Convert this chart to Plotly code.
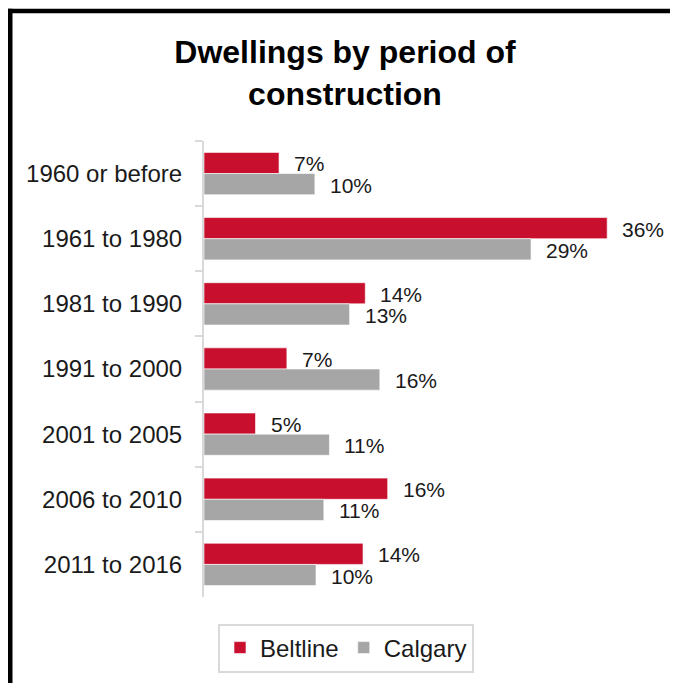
import plotly.graph_objects as go

# Data
periods = ["1960 or before", "1961 to 1980", "1981 to 1990", "1991 to 2000",
           "2001 to 2005", "2006 to 2010", "2011 to 2016"]
beltline = [6.7, 36.0, 14.4, 7.4, 4.6, 16.4, 14.2]
calgary = [9.9, 29.2, 13.0, 15.7, 11.2, 10.7, 10.0]

RED = "#C8102E"
GREY = "#A6A6A6"
FONT = "Arial, Liberation Sans, sans-serif"

# the page body adds an 8px margin, so the figure is 8px smaller than the window
OFF = 8
W, H = 678 - OFF, 683 - OFF
ML, MR, MT, MB = 204 - OFF, 26, 141 - OFF, 85
PW, PH = W - ML - MR, H - MT - MB


def px_x(px):
    # window pixel -> paper x
    return (px - OFF - ML) / PW


def px_y(py):
    # window pixel -> paper y
    return (H - MB - (py - OFF)) / PH


fig = go.Figure()

for name, vals, col in [("Beltline", beltline, RED), ("Calgary", calgary, GREY)]:
    fig.add_trace(go.Bar(
        y=periods, x=vals, name=name, orientation="h",
        marker=dict(color=col, line=dict(color="white", width=0.6)),
        hoverinfo="x+y",
    ))

# value labels, offset to the right of each bar end
bar_px = (1 - 0.35) / 2 * PH / len(periods)
for vals, shift in [(beltline, bar_px / 2), (calgary, -bar_px / 2)]:
    for p, v in zip(periods, vals):
        fig.add_annotation(
            x=v, y=p, text=f"{v:.0f}%", showarrow=False,
            xanchor="left", xshift=13, yshift=shift - 1,
            font=dict(family=FONT, size=21, color="#1a1a1a"),
        )

# black frame on top and left edges
fig.add_shape(type="rect", xref="paper", yref="paper", layer="above",
              x0=px_x(7.5), x1=px_x(12.5), y0=px_y(720), y1=px_y(8.5),
              fillcolor="black", line_width=0)
fig.add_shape(type="rect", xref="paper", yref="paper", layer="above",
              x0=px_x(7.5), x1=px_x(720), y0=px_y(13), y1=px_y(8.5),
              fillcolor="black", line_width=0)

fig.update_layout(
    width=W, height=H,
    margin=dict(l=ML, r=MR, t=MT, b=MB),
    paper_bgcolor="white", plot_bgcolor="white",
    barmode="group", bargap=0.35, bargroupgap=0,
    font=dict(family=FONT, color="#1a1a1a"),
    title=dict(
        text="<b>Dwellings by period of<br>construction</b>",
        font=dict(family=FONT, size=32, color="black"),
        xref="container", x=(345 - OFF) / W, xanchor="center",
        yref="container", y=1 - (63 - OFF) / H, yanchor="middle",
    ),
    xaxis=dict(range=[0, 40], visible=False, fixedrange=True),
    yaxis=dict(
        autorange="reversed", showgrid=False, zeroline=False,
        showline=True, linecolor="#d9d9d9", linewidth=2,
        ticks="outside", tickson="boundaries", ticklen=7, tickcolor="#d9d9d9",
        tickwidth=2, ticklabelstandoff=15,
        tickfont=dict(family=FONT, size=24, color="#1a1a1a"),
    ),
    showlegend=True,
    legend=dict(
        orientation="h", xref="paper", x=px_x(346), xanchor="center",
        yref="paper", y=px_y(648), yanchor="middle",
        bordercolor="#d9d9d9", borderwidth=2,
        font=dict(family=FONT, size=24, color="#1a1a1a"),
        itemwidth=30, traceorder="normal",
    ),
)

fig.write_html("out.html")
